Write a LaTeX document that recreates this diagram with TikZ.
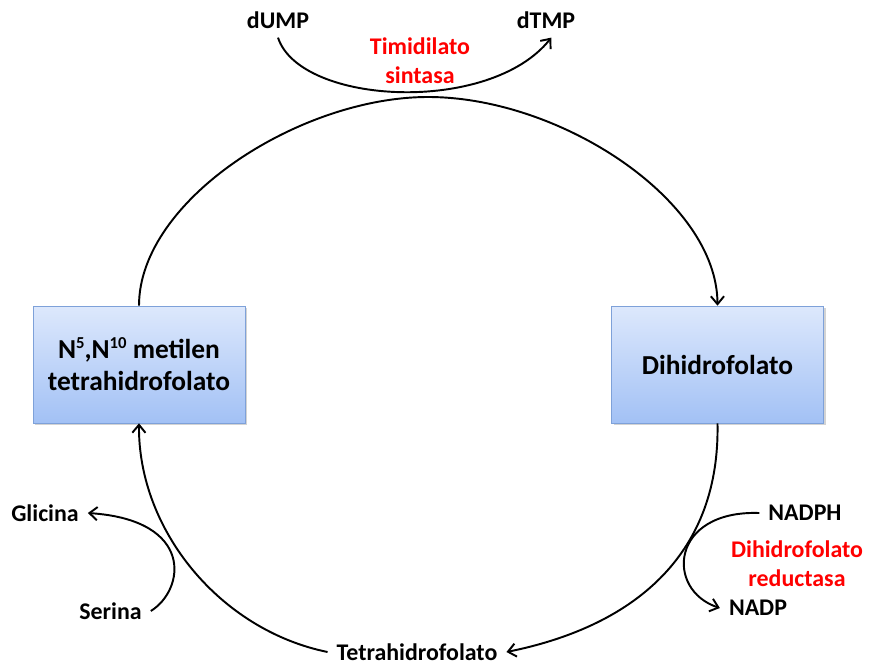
\documentclass[tikz,border=0pt]{standalone}
\usepackage{fontspec}
\setmainfont{Carlito}
\usetikzlibrary{positioning, arrows.meta, shadows}
\definecolor{boxtop}{HTML}{DDE8FC}
\definecolor{boxbot}{HTML}{A2C1F5}
\definecolor{boxline}{HTML}{7EA1D9}
\newcommand{\sups}[1]{\raisebox{0.75ex}{\fontsize{9.5}{9.5}\selectfont #1}}

\begin{document}
\begin{tikzpicture}[x=0.02cm, y=-0.02cm,
      box/.style={draw=boxline, top color=boxtop, bottom color=boxbot,
                  minimum width=4.24cm, minimum height=2.34cm, align=center,
                  font=\fontsize{15.6}{18.2}\selectfont\bfseries,
                  drop shadow={shadow xshift=1.2pt, shadow yshift=-1.2pt, opacity=0.35}},
      lbl/.style={font=\fontsize{13.6}{16.5}\selectfont\bfseries, inner sep=5pt},
      enz/.style={lbl, text=red, align=center},
      arr/.style={-{Straight Barb[length=4.5pt, width=7.5pt]}, line width=1.1pt}]
    \useasboundingbox (0,0) rectangle (872,666);
    % cycle boxes
    \node[box] (mtf) at (139,364.5) {N\sups{5},N\sups{10} metilen\\tetrahidrofolato};
    \node[box] (dhf) at (717.5,364.5) {Dihidrofolato};
    \node[lbl] (thf) at (417,652) {Tetrahidrofolato};
    \coordinate (top) at (428,97);
    % side reactions
    \node[lbl] (dump) at (278,20) {dUMP};
    \node[lbl] (dtmp) at (546,20) {dTMP};
    \node[enz] (ts) at (420,60.5) {Timidilato\\sintasa};
    \node[lbl] (gly) at (45,513) {Glicina};
    \node[lbl] (ser) at (110.5,611) {Serina};
    \node[lbl] (nadph) at (805,513) {NADPH};
    \node[lbl] (nadp) at (758,608) {NADP};
    \node[enz] (dhfr) at (797,564) {Dihidrofolato\\reductasa};
    % main cycle
    \draw[arr] (mtf.north) .. controls (139,200) and (300,97) .. (top)
               .. controls (560,97) and (717,200) .. (dhf.north);
    \draw[arr] (dhf.south) .. controls (720,550) and (640,625) .. (thf.east);
    \draw[arr] (thf.west) .. controls (220,630) and (138,530) .. (mtf.south);
    % coupled reactions
    \draw[arr] (dump.south) .. controls (300,105) and (490,115) .. ([xshift=3pt]dtmp.south);
    \draw[arr] (ser.east) .. controls (185,590) and (195,520) .. (gly.east);
    \draw[arr] (nadph.west) .. controls (670,510) and (665,590) .. (nadp.west);
  \end{tikzpicture}
\end{document}
